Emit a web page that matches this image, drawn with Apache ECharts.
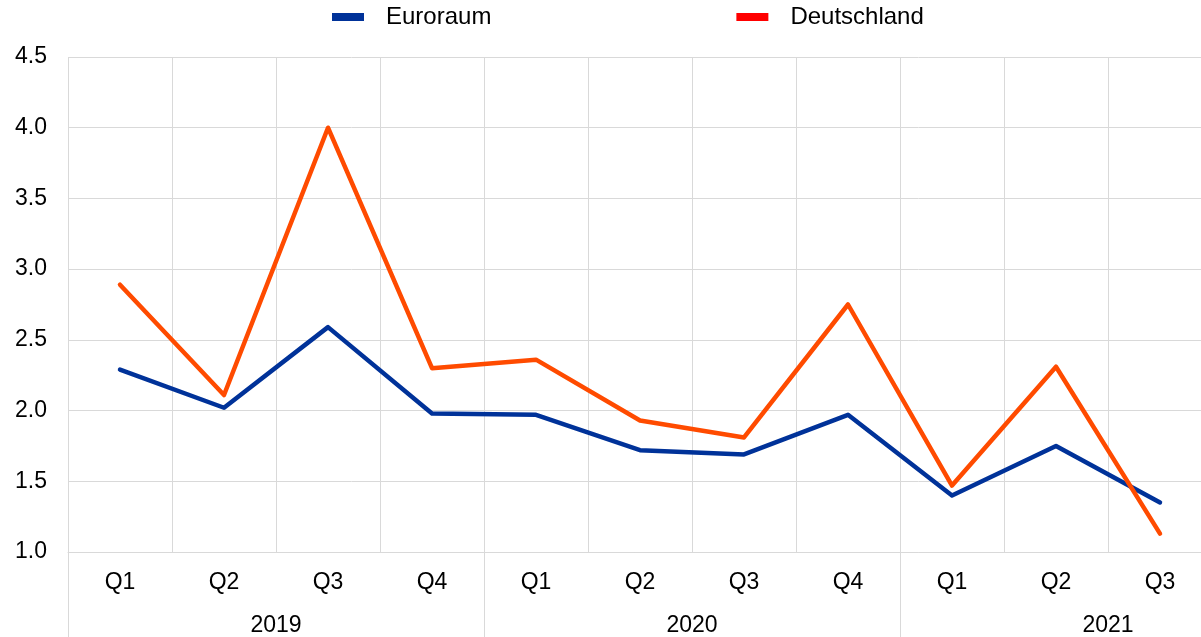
<!DOCTYPE html>
<html>
<head>
<meta charset="utf-8">
<script src="https://cdn.jsdelivr.net/npm/echarts@6/dist/echarts.min.js"></script>
<style>html,body{margin:0;padding:0;background:#fff;}#c{width:1201px;height:637px;}</style>
</head>
<body>
<div id="c"></div>
<script>
var quarters = ['Q1','Q2','Q3','Q4','Q1','Q2','Q3','Q4','Q1','Q2','Q3',''];
var years = ['2019','2020','2021'];
var euroraum = [2.29, 2.02, 2.59, 1.98, 1.97, 1.72, 1.69, 1.97, 1.40, 1.75, 1.35];
var deutschland = [2.89, 2.11, 4.00, 2.30, 2.36, 1.93, 1.81, 2.75, 1.47, 2.31, 1.13];
var yTicks = [1.0, 1.5, 2.0, 2.5, 3.0, 3.5, 4.0, 4.5];

var FONT = 'Arial, "Liberation Sans", sans-serif';
var GRID = '#d9d9d9';
var chart = echarts.init(document.getElementById('c'));
chart.setOption({
  animation: false,
  textStyle: {fontFamily: FONT},
  legend: {
    left: 327, top: 0,
    itemWidth: 32, itemHeight: 8, itemGap: 245,
    icon: 'rect',
    textStyle: {fontFamily: FONT, fontSize: 24, color: '#000', padding: [0, 0, 0, 17]},
    data: [
      {name: 'Euroraum', itemStyle: {color: '#003299'}},
      {name: 'Deutschland', itemStyle: {color: '#ff0000'}}
    ]
  },
  grid: {left: 68, top: 57, width: 1248, bottom: 85, containLabel: false, outerBoundsMode: 'none'},
  xAxis: [
    {
      type: 'category', data: quarters, position: 'bottom',
      boundaryGap: true,
      axisLine: {show: true, lineStyle: {color: GRID, width: 1}},
      axisTick: {show: false},
      splitLine: {show: true, interval: 0, lineStyle: {color: GRID, width: 1}},
      axisLabel: {interval: 0, margin: 19, fontSize: 23, color: '#000', fontFamily: FONT}
    },
    {
      type: 'category', data: years, position: 'bottom', offset: 0,
      boundaryGap: true,
      axisLine: {show: false},
      axisTick: {show: true, interval: 0, length: 85, lineStyle: {color: GRID, width: 1}},
      splitLine: {show: false},
      axisLabel: {interval: 0, margin: 62, fontSize: 23, color: '#000', fontFamily: FONT}
    }
  ],
  yAxis: {
    type: 'value', min: yTicks[0], max: yTicks[yTicks.length - 1], interval: 0.5,
    axisLine: {show: false}, axisTick: {show: false},
    splitLine: {show: true, lineStyle: {color: GRID, width: 1}},
    axisLabel: {margin: 21, fontSize: 23, color: '#000', fontFamily: FONT, padding: [4, 0, 0, 0],
      formatter: function (v) { return v.toFixed(1); }}
  },
  series: [
    {
      name: 'Euroraum', type: 'line', xAxisIndex: 0, data: euroraum,
      symbol: 'none', itemStyle: {color: '#003299'},
      lineStyle: {color: '#003299', width: 4.5, cap: 'round', join: 'round'}
    },
    {
      name: 'Deutschland', type: 'line', xAxisIndex: 0, data: deutschland,
      symbol: 'none', itemStyle: {color: '#ff0000'},
      lineStyle: {color: '#ff4b00', width: 4.5, cap: 'round', join: 'round'}
    }
  ]
});
</script>
</body>
</html>
